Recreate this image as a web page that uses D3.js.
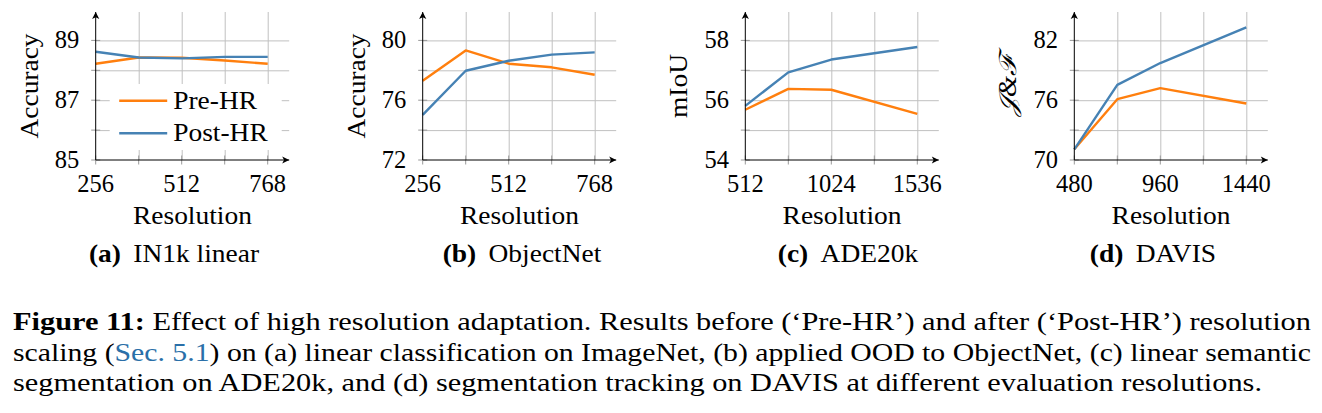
<!DOCTYPE html>
<html>
<head>
<meta charset="utf-8">
<script src="https://cdn.jsdelivr.net/npm/d3@7"></script>
<style>
  body { margin: 0; background: #fff; }
  text { font-family: "Liberation Serif", "DejaVu Serif", serif; fill: #000; }
</style>
</head>
<body>
<div id="fig"></div>
<script>
// values
var resA = [256, 384, 512, 640, 768];
var preA = [88.22, 88.43, 88.42, 88.33, 88.22];
var postA = [88.62, 88.43, 88.40, 88.45, 88.45];

var resB = [256, 384, 512, 640, 768];
var preB = [77.30, 79.33, 78.44, 78.20, 77.70];
var postB = [75.02, 77.97, 78.64, 79.05, 79.20];

var resC = [512, 768, 1024, 1536];
var preC = [55.68, 56.38, 56.35, 55.54];
var postC = [55.81, 56.93, 57.36, 57.78];

var resD = [480, 720, 960, 1440];
var preD = [71.07, 76.10, 77.21, 75.67];
var postD = [71.07, 77.54, 79.73, 83.31];

// ticks
var xTicksA = [256, 384, 512, 640, 768], xLabelsA = [256, 512, 768];
var xTicksC = [512, 768, 1024, 1280, 1536], xLabelsC = [512, 1024, 1536];
var xTicksD = [480, 720, 960, 1200, 1440], xLabelsD = [480, 960, 1440];
var yTicksA = [85, 86, 87, 88, 89], yLabelsA = [85, 87, 89];
var yTicksB = [72, 74, 76, 78, 80], yLabelsB = [72, 76, 80];
var yTicksC = [54, 55, 56, 57, 58], yLabelsC = [54, 56, 58];
var yTicksD = [70, 73, 76, 79, 82], yLabelsD = [70, 76, 82];

var seriesNames = ["Pre-HR", "Post-HR"];
var colors = {"Pre-HR": "#ff7f0e", "Post-HR": "#4682b4"};

var panels = [
  {key: "a", title: "IN1k linear", ylab: "Accuracy", res: resA, pre: preA, post: postA,
   xd: [256, 832], yd: [85, 89.95], xt: xTicksA, xl: xLabelsA, yt: yTicksA, yl: yLabelsA,
   left: 95.7, cap: 174, legend: true},
  {key: "b", title: "ObjectNet", ylab: "Accuracy", res: resB, pre: preB, post: postB,
   xd: [256, 832], yd: [72, 81.9], xt: xTicksA, xl: xLabelsA, yt: yTicksB, yl: yLabelsB,
   left: 422.7, cap: 522},
  {key: "c", title: "ADE20k", ylab: "mIoU", res: resC, pre: preC, post: postC,
   xd: [512, 1664], yd: [54, 58.95], xt: xTicksC, xl: xLabelsC, yt: yTicksC, yl: yLabelsC,
   left: 745.3, cap: 848},
  {key: "d", title: "DAVIS", ylab: "\uD835\uDCA5&\u2131", res: resD, pre: preD, post: postD,
   xd: [480, 1560], yd: [70, 84.85], xt: xTicksD, xl: xLabelsD, yt: yTicksD, yl: yLabelsD,
   left: 1074.3, cap: 1153, italic: true}
];

var W = 1322, H = 413;
var yTop = 12, yBot = 160, pw = 193.5;
var fs = 24.5;
var wide = 1.12;   // CM glyphs run wider than Liberation Serif

// stretch a text element horizontally by k
function stretch(sel, k) {
  sel.each(function() {
    var len = this.getComputedTextLength();
    d3.select(this).attr("textLength", len * k).attr("lengthAdjust", "spacingAndGlyphs");
  });
}

var svg = d3.select("#fig").append("svg")
    .attr("width", W)
    .attr("height", H);

svg.append("rect").attr("width", W).attr("height", H).attr("fill", "#fff");

svg.append("defs").append("marker")
    .attr("id", "arrow")
    .attr("markerUnits", "userSpaceOnUse")
    .attr("viewBox", "-8 -4 9 8")
    .attr("refX", 0).attr("refY", 0)
    .attr("markerWidth", 9).attr("markerHeight", 8)
    .attr("orient", "auto")
  .append("path")
    .attr("d", "M-7,-3.6 L0,0 L-7,3.6 L-5.2,0 Z")
    .attr("fill", "#000");

panels.forEach(function(p) {
  var x = d3.scaleLinear().domain(p.xd).range([p.left, p.left + pw]);
  var y = d3.scaleLinear().domain(p.yd).range([yBot, yTop]);
  var g = svg.append("g").attr("id", "panel_" + p.key);

  // grid
  g.append("g")
    .attr("transform", "translate(0," + yBot + ")")
    .call(d3.axisBottom(x).tickValues(p.xt.slice(1)).tickSize(-(yBot - yTop)).tickFormat(""))
    .call(function(s) { s.select(".domain").remove(); })
    .selectAll("line").attr("stroke", "#c0c0c0").attr("stroke-width", 1);
  g.append("g")
    .attr("transform", "translate(" + p.left + ",0)")
    .call(d3.axisLeft(y).tickValues(p.yt.slice(1)).tickSize(-pw).tickFormat(""))
    .call(function(s) { s.select(".domain").remove(); })
    .selectAll("line").attr("stroke", "#c0c0c0").attr("stroke-width", 1);

  // small tick marks on both sides of the axes
  g.selectAll(".xtick").data(p.xt).join("line")
    .attr("class", "xtick")
    .attr("x1", function(d) { return x(d); }).attr("x2", function(d) { return x(d); })
    .attr("y1", yBot - 4.5).attr("y2", yBot + 4.5)
    .attr("stroke", "#999").attr("stroke-width", 1);
  g.selectAll(".ytick").data(p.yt).join("line")
    .attr("class", "ytick")
    .attr("x1", p.left - 4.5).attr("x2", p.left + 4.5)
    .attr("y1", function(d) { return y(d); }).attr("y2", function(d) { return y(d); })
    .attr("stroke", "#999").attr("stroke-width", 1);

  // legend box sits over the grid in panel (a)
  if (p.legend) {
    var lg = g.append("g").attr("transform", "translate(" + (p.left + 14) + ",84)");
    lg.append("rect").attr("width", 172).attr("height", 66).attr("fill", "#fff");
    seriesNames.forEach(function(n, i) {
      var yy = 16.7 + i * 32.6;
      lg.append("line")
        .attr("x1", 9.5).attr("x2", 57.5).attr("y1", yy).attr("y2", yy)
        .attr("stroke", colors[n]).attr("stroke-width", 2.6);
      lg.append("text")
        .attr("x", 63.5).attr("y", yy + 8)
        .style("font-size", fs + "px")
        .text(n)
        .call(stretch, wide);
    });
  }

  // data lines
  var line = d3.line()
    .x(function(d) { return x(d[0]); })
    .y(function(d) { return y(d[1]); });
  [["Pre-HR", p.pre], ["Post-HR", p.post]].forEach(function(s) {
    g.append("path")
      .datum(p.res.map(function(r, i) { return [r, s[1][i]]; }))
      .attr("d", line)
      .attr("fill", "none")
      .attr("stroke", colors[s[0]])
      .attr("stroke-width", 2.4)
      .attr("stroke-linejoin", "round");
  });

  // axes with arrows
  g.append("line")
    .attr("x1", p.left).attr("x2", p.left + pw)
    .attr("y1", yBot).attr("y2", yBot)
    .attr("stroke", "#000").attr("stroke-width", 1)
    .attr("marker-end", "url(#arrow)");
  g.append("line")
    .attr("x1", p.left).attr("x2", p.left)
    .attr("y1", yBot).attr("y2", yTop)
    .attr("stroke", "#000").attr("stroke-width", 1)
    .attr("marker-end", "url(#arrow)");

  // tick labels
  g.selectAll(".xlab").data(p.xl).join("text")
    .attr("class", "xlab")
    .attr("x", function(d) { return x(d); })
    .attr("y", yBot + 31.5)
    .attr("text-anchor", "middle")
    .style("font-size", fs + "px")
    .text(function(d) { return d; });
  g.selectAll(".ylab").data(p.yl).join("text")
    .attr("class", "ylab")
    .attr("x", p.left - 16.4)
    .attr("y", function(d) { return y(d) + 7.8; })
    .attr("text-anchor", "end")
    .style("font-size", fs + "px")
    .text(function(d) { return d; });

  // axis titles
  g.append("text")
    .attr("x", p.left + pw / 2)
    .attr("y", 224)
    .attr("text-anchor", "middle")
    .style("font-size", fs + "px")
    .text("Resolution")
    .call(stretch, wide);
  g.append("text")
    .attr("transform", "translate(" + (p.left - 58) + "," + ((yTop + yBot) / 2) + ") rotate(-90)")
    .attr("text-anchor", "middle")
    .style("font-size", fs + "px")
    .style("font-style", p.italic ? "italic" : null)
    .text(p.ylab)
    .call(stretch, wide);

  // sub caption
  var sc = g.append("text")
    .attr("x", p.cap)
    .attr("y", 262)
    .attr("text-anchor", "middle")
    .style("font-size", fs + "px");
  sc.append("tspan").style("font-weight", "bold").text("(" + p.key + ")");
  sc.append("tspan").text(" \u2009" + p.title);
  sc.call(stretch, wide);
});

// figure caption, first two lines justified
var capX = 13;
var cap1 = svg.append("text").attr("x", capX).attr("y", 330).style("font-size", "25px")
    .attr("textLength", 1298).attr("lengthAdjust", "spacingAndGlyphs");
cap1.append("tspan").style("font-weight", "bold").text("Figure 11:");
cap1.append("tspan").text(" Effect of high resolution adaptation. Results before (\u2018Pre-HR\u2019) and after (\u2018Post-HR\u2019) resolution");

var cap2 = svg.append("text").attr("x", capX).attr("y", 361).style("font-size", "25px")
    .attr("textLength", 1298).attr("lengthAdjust", "spacingAndGlyphs");
cap2.append("tspan").text("scaling (");
cap2.append("tspan").style("fill", "#2a6fa8").text("Sec. 5.1");
cap2.append("tspan").text(") on (a) linear classification on ImageNet, (b) applied OOD to ObjectNet, (c) linear semantic");

svg.append("text").attr("x", capX).attr("y", 391).style("font-size", "25px")
    .attr("textLength", 1249).attr("lengthAdjust", "spacingAndGlyphs")
    .text("segmentation on ADE20k, and (d) segmentation tracking on DAVIS at different evaluation resolutions.");
</script>
</body>
</html>
